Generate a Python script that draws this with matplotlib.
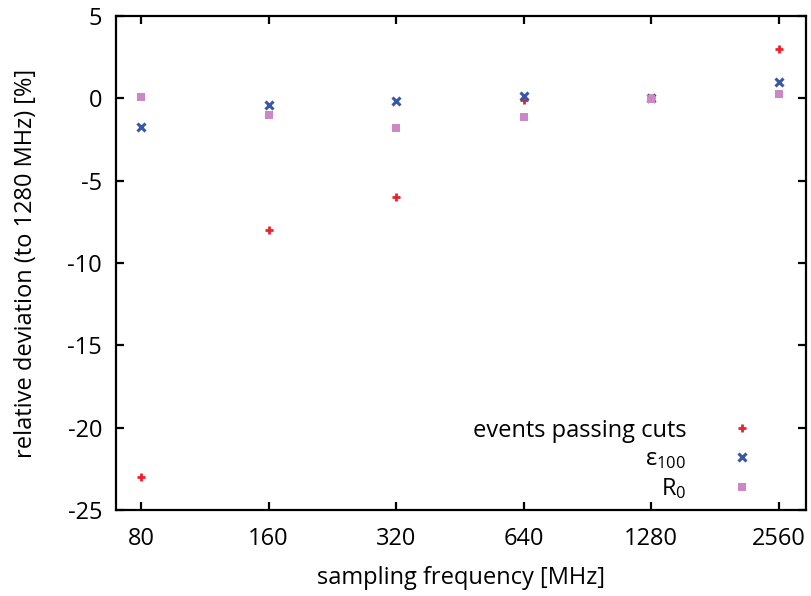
import matplotlib
matplotlib.use('Agg')
import matplotlib.pyplot as plt

# sampling frequencies [MHz]
freqs = [80, 160, 320, 640, 1280, 2560]
tick_labels = ['80', '160', '320', '640', '1280', '2560']

# relative deviation to 1280 MHz [%]
events_passing = [-23.0, -8.0, -6.0, -0.1, 0.0, 3.0]
eps_100 = [-1.72, -0.41, -0.15, 0.16, 0.0, 0.97]
r_0 = [0.06, -1.01, -1.82, -1.15, -0.02, 0.26]

plt.rcParams['font.family'] = ['Open Sans', 'DejaVu Sans']
plt.rcParams['mathtext.fontset'] = 'custom'
plt.rcParams['mathtext.rm'] = 'Open Sans'
plt.rcParams['mathtext.it'] = 'Open Sans'
plt.rcParams['axes.unicode_minus'] = False

fs = 17

fig = plt.figure(figsize=(8.11, 5.96), dpi=100)
ax = fig.add_axes([0.143, 0.1443, 0.8508, 0.8289])

ax.plot(freqs, events_passing, ls='none', marker='+', ms=5.5, mew=2.0,
        color='#f0202a', label='events passing cuts')
ax.plot(freqs, eps_100, ls='none', marker='x', ms=6, mew=2.2,
        color='#3a56a8', label=r'$\mathrm{\varepsilon}_{100}$')
ax.plot(freqs, r_0, ls='none', marker='s', ms=6, mew=0,
        color='#cc88c4', label=r'$\mathrm{R}_{0}$')

ax.set_xscale('log', base=2)
ax.set_xlim(80 / 2 ** 0.197, 2560 * 2 ** 0.215)
ax.set_ylim(-25, 5)
ax.set_xticks(freqs)
ax.set_xticklabels(tick_labels)
ax.minorticks_off()
ax.set_yticks(range(-25, 6, 5))

ax.tick_params(direction='in', length=6, width=1.6, labelsize=fs,
               top=True, right=True)
ax.tick_params(axis='x', pad=12)
ax.tick_params(axis='y', pad=10)
for s in ax.spines.values():
    s.set_linewidth(1.6)

ax.set_xlabel('sampling frequency [MHz]', fontsize=fs, labelpad=11)
ax.set_ylabel('relative deviation (to 1280 MHz) [%]', fontsize=fs, labelpad=21)

ax.legend(loc='lower right', bbox_to_anchor=(0.955, -0.025), frameon=False,
          markerfirst=False, fontsize=fs, handlelength=1.0,
          handletextpad=1.85, labelspacing=0.2)

fig.savefig('out.png', dpi=100)
